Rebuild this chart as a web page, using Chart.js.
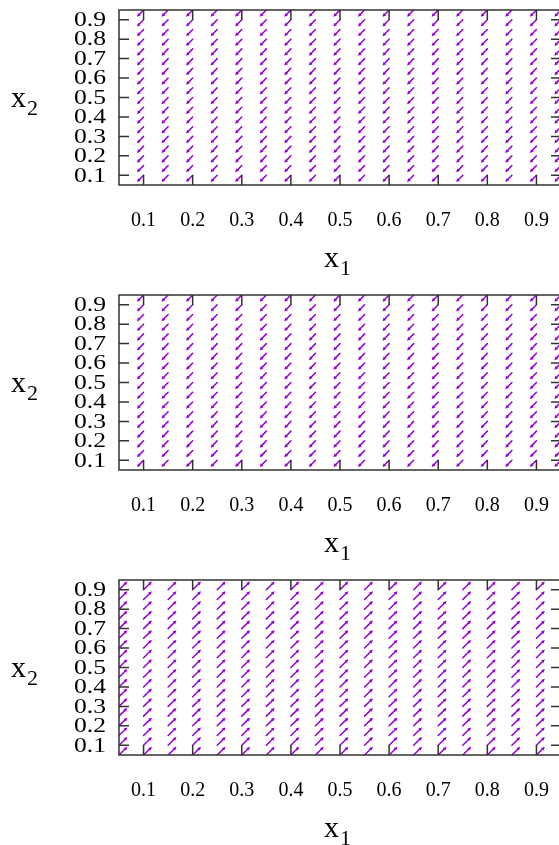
<!DOCTYPE html>
<html>
<head>
<meta charset="utf-8">
<script src="https://cdn.jsdelivr.net/npm/chart.js@4.4.1/dist/chart.umd.min.js"></script>
<style>
  html, body { margin: 0; padding: 0; background: #ffffff; }
  #wrap { position: relative; width: 559px; height: 845px; overflow: hidden; }
  .panel { position: absolute; left: 0; width: 561px; height: 285px; }
</style>
</head>
<body>
<div id="wrap">
  <div class="panel" style="top:0px"><canvas id="field1"></canvas></div>
  <div class="panel" style="top:285px"><canvas id="field2"></canvas></div>
  <div class="panel" style="top:570px"><canvas id="field3"></canvas></div>
</div>
<script>
// Axis ticks shared by all three panels
const tickValues = [0.1, 0.2, 0.3, 0.4, 0.5, 0.6, 0.7, 0.8, 0.9];
const tickLabels = ['0.1', '0.2', '0.3', '0.4', '0.5', '0.6', '0.7', '0.8', '0.9'];

// Sample grids (arrow tail positions)
const gridUpperX = [0.10, 0.15, 0.20, 0.25, 0.30, 0.35, 0.40, 0.45, 0.50, 0.55, 0.60, 0.65, 0.70, 0.75, 0.80, 0.85, 0.90, 0.95];
const gridUpperY = [0.10, 0.15, 0.20, 0.25, 0.30, 0.35, 0.40, 0.45, 0.50, 0.55, 0.60, 0.65, 0.70, 0.75, 0.80, 0.85, 0.90, 0.95];
const gridLowerX = [0.05, 0.10, 0.15, 0.20, 0.25, 0.30, 0.35, 0.40, 0.45, 0.50, 0.55, 0.60, 0.65, 0.70, 0.75, 0.80, 0.85, 0.90];
const gridLowerY = [0.05, 0.10, 0.15, 0.20, 0.25, 0.30, 0.35, 0.40, 0.45, 0.50, 0.55, 0.60, 0.65, 0.70, 0.75, 0.80, 0.85, 0.90];

// Vector components (dx, dy) of the field in each panel
const vector1 = [-0.0135, -0.035];
const vector2 = [-0.0135, -0.035];
const vector3 = [0.017, 0.042];

const AXIS_MIN = 0.05, AXIS_MAX = 0.95;
const ARROW_COLOR = '#9400D3';
const SERIF = "'Liberation Serif', 'DejaVu Serif', serif";

function buildField(xs, ys, vec) {
  const pts = [];
  for (const x of xs) {
    for (const y of ys) {
      pts.push({ x: x, y: y, dx: vec[0], dy: vec[1] });
    }
  }
  return pts;
}

function labelFor(v) {
  return tickLabels[tickValues.findIndex(t => Math.abs(t - v) < 1e-9)];
}

// Draws each data point as an arrow from (x, y) to (x+dx, y+dy)
const vectorPlugin = {
  id: 'vectorArrows',
  afterDatasetsDraw(chart) {
    const ctx = chart.ctx;
    const xs = chart.scales.x, ys = chart.scales.y;
    const area = chart.chartArea;
    ctx.save();
    ctx.beginPath();
    ctx.rect(area.left, area.top, area.right - area.left, area.bottom - area.top);
    ctx.clip();
    ctx.strokeStyle = ARROW_COLOR;
    ctx.fillStyle = ARROW_COLOR;
    ctx.lineWidth = 1.5;
    ctx.lineCap = 'round';
    for (const p of chart.data.datasets[0].data) {
      const x0 = xs.getPixelForValue(p.x), y0 = ys.getPixelForValue(p.y);
      const x1 = xs.getPixelForValue(p.x + p.dx), y1 = ys.getPixelForValue(p.y + p.dy);
      const ang = Math.atan2(y1 - y0, x1 - x0);
      const headLen = 3.5, headHalf = 1.8;
      const bx = x1 - headLen * Math.cos(ang), by = y1 - headLen * Math.sin(ang);
      ctx.beginPath();
      ctx.moveTo(x0, y0);
      ctx.lineTo(bx, by);
      ctx.stroke();
      ctx.beginPath();
      ctx.moveTo(x1, y1);
      ctx.lineTo(bx + headHalf * Math.sin(ang), by - headHalf * Math.cos(ang));
      ctx.lineTo(bx - headHalf * Math.sin(ang), by + headHalf * Math.cos(ang));
      ctx.closePath();
      ctx.fill();
    }
    ctx.restore();
  }
};

// Box frame with inward ticks on all four sides, wide y tick labels, subscripted axis titles
const framePlugin = {
  id: 'boxFrame',
  afterDraw(chart) {
    const ctx = chart.ctx;
    const a = chart.chartArea;
    const xs = chart.scales.x, ys = chart.scales.y;
    const tl = 10;
    ctx.save();
    ctx.strokeStyle = '#333333';
    ctx.lineWidth = 1.5;
    ctx.strokeRect(a.left, a.top, a.right - a.left, a.bottom - a.top);
    ctx.beginPath();
    for (const v of tickValues) {
      const px = xs.getPixelForValue(v);
      ctx.moveTo(px, a.bottom); ctx.lineTo(px, a.bottom - tl);
      ctx.moveTo(px, a.top); ctx.lineTo(px, a.top + tl);
      const py = ys.getPixelForValue(v);
      ctx.moveTo(a.left, py); ctx.lineTo(a.left + tl, py);
      ctx.moveTo(a.right, py); ctx.lineTo(a.right - tl, py);
    }
    ctx.stroke();

    ctx.fillStyle = '#000000';
    // y tick labels, set in a horizontally widened serif
    ctx.font = '20px ' + SERIF;
    ctx.textAlign = 'right';
    ctx.textBaseline = 'middle';
    for (const v of tickValues) {
      const py = ys.getPixelForValue(v);
      ctx.save();
      ctx.translate(a.left - 13, py + 1);
      ctx.scale(1.28, 1);
      ctx.fillText(labelFor(v), 0, 0);
      ctx.restore();
    }

    ctx.textBaseline = 'alphabetic';
    ctx.textAlign = 'left';
    // y-axis title: x2
    ctx.font = '30px ' + SERIF;
    ctx.fillText('x', 11, 107);
    ctx.font = '22px ' + SERIF;
    ctx.fillText('2', 27, 115);
    // x-axis title: x1
    ctx.font = '30px ' + SERIF;
    ctx.fillText('x', 324, 267);
    ctx.font = '22px ' + SERIF;
    ctx.fillText('1', 340, 275);
    ctx.restore();
  }
};

function zeroPadding(s) {
  s.paddingTop = 0; s.paddingBottom = 0; s.paddingLeft = 0; s.paddingRight = 0;
}

function makeChart(id, field) {
  return new Chart(document.getElementById(id), {
    type: 'scatter',
    data: { datasets: [{ data: field, pointRadius: 0, pointHoverRadius: 0, showLine: false }] },
    options: {
      responsive: true,
      maintainAspectRatio: false,
      animation: false,
      events: [],
      layout: { padding: { top: 10, right: 0, left: 0, bottom: 0 } },
      plugins: { legend: { display: false }, tooltip: { enabled: false } },
      scales: {
        x: {
          type: 'linear', min: AXIS_MIN, max: AXIS_MAX,
          afterBuildTicks: s => { s.ticks = tickValues.map(v => ({ value: v })); },
          afterFit: s => { s.height = 100; zeroPadding(s); },
          grid: { display: false },
          border: { display: false },
          ticks: {
            autoSkip: false, maxRotation: 0, padding: 16, color: '#000000',
            font: { family: SERIF, size: 20 },
            callback: (v) => labelFor(v)
          }
        },
        y: {
          type: 'linear', min: AXIS_MIN, max: AXIS_MAX,
          afterBuildTicks: s => { s.ticks = tickValues.map(v => ({ value: v })); },
          afterFit: s => { s.width = 119; zeroPadding(s); },
          grid: { display: false },
          border: { display: false },
          ticks: { display: false }
        }
      }
    },
    plugins: [vectorPlugin, framePlugin]
  });
}

makeChart('field1', buildField(gridUpperX, gridUpperY, vector1));
makeChart('field2', buildField(gridUpperX, gridUpperY, vector2));
makeChart('field3', buildField(gridLowerX, gridLowerY, vector3));
</script>
</body>
</html>
